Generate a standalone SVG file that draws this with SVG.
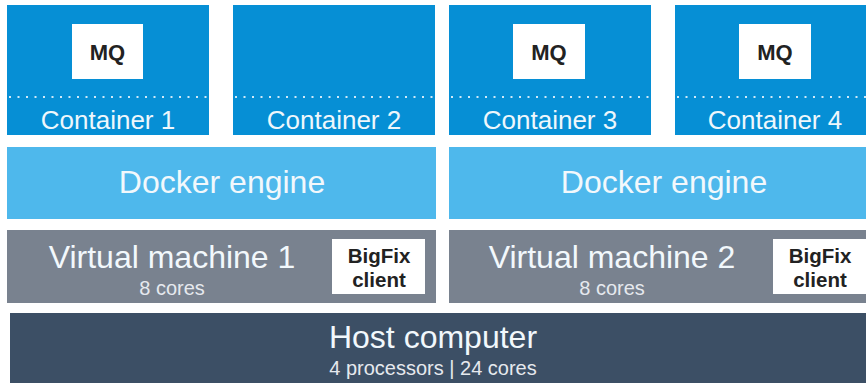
<svg xmlns="http://www.w3.org/2000/svg" width="866" height="383" viewBox="0 0 866 383">
<style>
.cont{fill:#068fd5}
.dock{fill:#4eb8ec}
.vm{fill:#79828f}
.host{fill:#3c4f65}
.box{fill:#ffffff}
.dots{stroke:#cfe9f8;stroke-width:2;stroke-dasharray:2 6.5}
text{font-family:"Liberation Sans",Arial,sans-serif;text-anchor:middle}
.lbl{fill:#eef7fc;font-size:26px}
.big{fill:#f2f8fc;font-size:32px}
.sub{fill:#e6e9ee;font-size:20px}
.bold{fill:#222;font-weight:bold;font-size:20.5px}
.mq{fill:#222;font-weight:bold;font-size:22px}
</style>
<rect width="866" height="383" fill="#ffffff"/>
<g id="container1">
<rect class="cont" x="7" y="5" width="202" height="130"/>
<rect class="box" x="72" y="24" width="71" height="55"/>
<text class="mq" x="107.5" y="60">MQ</text>
<line class="dots" x1="9" y1="97" x2="208" y2="97"/>
<text class="lbl" x="108" y="129">Container 1</text>
</g>
<g id="container2">
<rect class="cont" x="233" y="5" width="202" height="130"/>
<line class="dots" x1="235" y1="97" x2="434" y2="97"/>
<text class="lbl" x="334" y="129">Container 2</text>
</g>
<g id="container3">
<rect class="cont" x="449" y="5" width="202" height="130"/>
<rect class="box" x="513" y="24" width="72" height="55"/>
<text class="mq" x="549" y="60">MQ</text>
<line class="dots" x1="451" y1="97" x2="650" y2="97"/>
<text class="lbl" x="550" y="129">Container 3</text>
</g>
<g id="container4">
<rect class="cont" x="675" y="5" width="191" height="130"/>
<rect class="box" x="739" y="24" width="72" height="55"/>
<text class="mq" x="775" y="60">MQ</text>
<line class="dots" x1="677" y1="97" x2="866" y2="97"/>
<text class="lbl" x="775" y="129">Container 4</text>
</g>
<g id="docker1">
<rect class="dock" x="7" y="147" width="429" height="72"/>
<text class="big" x="222" y="193">Docker engine</text>
</g>
<g id="docker2">
<rect class="dock" x="449" y="147" width="417" height="72"/>
<text class="big" x="664" y="193">Docker engine</text>
</g>
<g id="vm1">
<rect class="vm" x="7" y="230" width="429" height="73"/>
<text class="big" x="172" y="268">Virtual machine 1</text>
<text class="sub" x="172" y="295">8 cores</text>
<rect class="box" x="332" y="239" width="93" height="55"/>
<text class="bold" x="379" y="263">BigFix</text>
<text class="bold" x="379" y="287">client</text>
</g>
<g id="vm2">
<rect class="vm" x="449" y="230" width="417" height="73"/>
<text class="big" x="612" y="268">Virtual machine 2</text>
<text class="sub" x="612" y="295">8 cores</text>
<rect class="box" x="773" y="239" width="93" height="55"/>
<text class="bold" x="820" y="263">BigFix</text>
<text class="bold" x="820" y="287">client</text>
</g>
<g id="host">
<rect class="host" x="10" y="313" width="856" height="70"/>
<text class="big" x="433" y="348">Host computer</text>
<text class="sub" x="433" y="375">4 processors | 24 cores</text>
</g>
<g id="connectors"></g>
</svg>
